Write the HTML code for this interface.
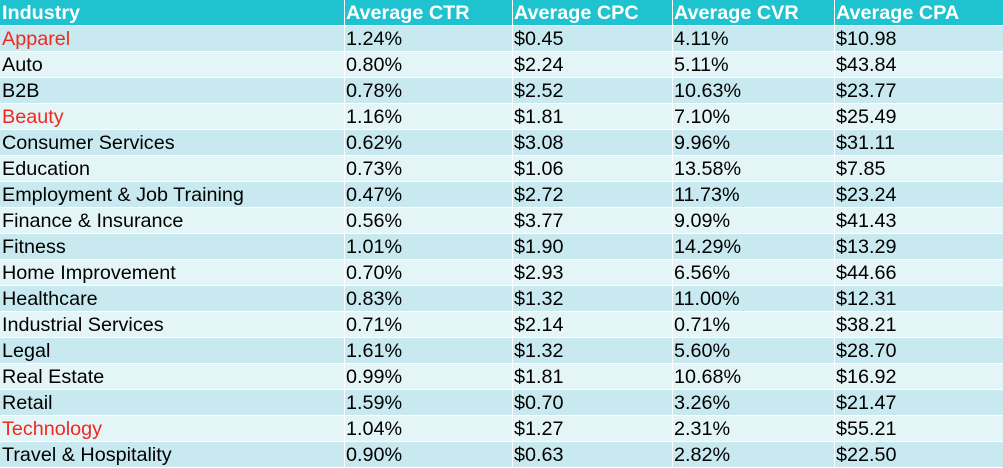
<!DOCTYPE html>
<html><head><meta charset="utf-8"><style>
html,body{margin:0;padding:0;width:1003px;height:468px;overflow:hidden;background:#fff;font-family:"Liberation Sans",Arial,sans-serif;}
.row{position:absolute;left:0;width:1003px;height:25px;}
.cell{position:absolute;top:0;height:25px;line-height:26px;font-size:19.8px;color:#000;white-space:nowrap;padding-left:2px;box-sizing:border-box;}
.hdr .cell{color:#fff;font-weight:bold;}
.hdr{background:#1fc3cf;}
.odd{background:#c8e9ef;}
.even{background:#e4f5f8;}
.red{color:#f0281e !important;}
.vl{position:absolute;top:0;width:1px;height:468px;background:#fff;}
</style></head><body>
<div id="t"></div>
<script>
const industries=["Apparel","Auto","B2B","Beauty","Consumer Services","Education","Employment & Job Training","Finance & Insurance","Fitness","Home Improvement","Healthcare","Industrial Services","Legal","Real Estate","Retail","Technology","Travel & Hospitality"];
const ctr=["1.24%","0.80%","0.78%","1.16%","0.62%","0.73%","0.47%","0.56%","1.01%","0.70%","0.83%","0.71%","1.61%","0.99%","1.59%","1.04%","0.90%"];
const cpc=["$0.45","$2.24","$2.52","$1.81","$3.08","$1.06","$2.72","$3.77","$1.90","$2.93","$1.32","$2.14","$1.32","$1.81","$0.70","$1.27","$0.63"];
const cvr=["4.11%","5.11%","10.63%","7.10%","9.96%","13.58%","11.73%","9.09%","14.29%","6.56%","11.00%","0.71%","5.60%","10.68%","3.26%","2.31%","2.82%"];
const cpa=["$10.98","$43.84","$23.77","$25.49","$31.11","$7.85","$23.24","$41.43","$13.29","$44.66","$12.31","$38.21","$28.70","$16.92","$21.47","$55.21","$22.50"];
const headers=["Industry","Average CTR","Average CPC","Average CVR","Average CPA"];
const highlighted=["Apparel","Beauty","Technology"];
const colX=[0,344,512,672,834];
const colW=[344,168,160,162,169];
const colNames=["industry","ctr","cpc","cvr","cpa"];
const t=document.getElementById('t');
function mkRow(vals,i,isHdr){
  const r=document.createElement('div');
  r.className='row '+(isHdr?'hdr':(i%2===0?'odd':'even'));
  r.style.top=(isHdr?0:26*(i+1))+'px';
  
  
  vals.forEach((v,c)=>{
    const d=document.createElement('div');
    d.className='cell';
    if(!isHdr&&c===0&&highlighted.includes(v))d.classList.add('red');
    d.style.left=colX[c]+'px';d.style.width=colW[c]+'px';
    d.textContent=v;
    
    
    r.appendChild(d);
  });
  t.appendChild(r);
}
mkRow(headers,0,true);
industries.forEach((n,i)=>mkRow([n,ctr[i],cpc[i],cvr[i],cpa[i]],i,false));
colX.slice(1).forEach(x=>{
  const l=document.createElement('div');
  l.className='vl';l.style.left=x+'px';
  
  
  t.appendChild(l);
});
</script>
</body></html>
